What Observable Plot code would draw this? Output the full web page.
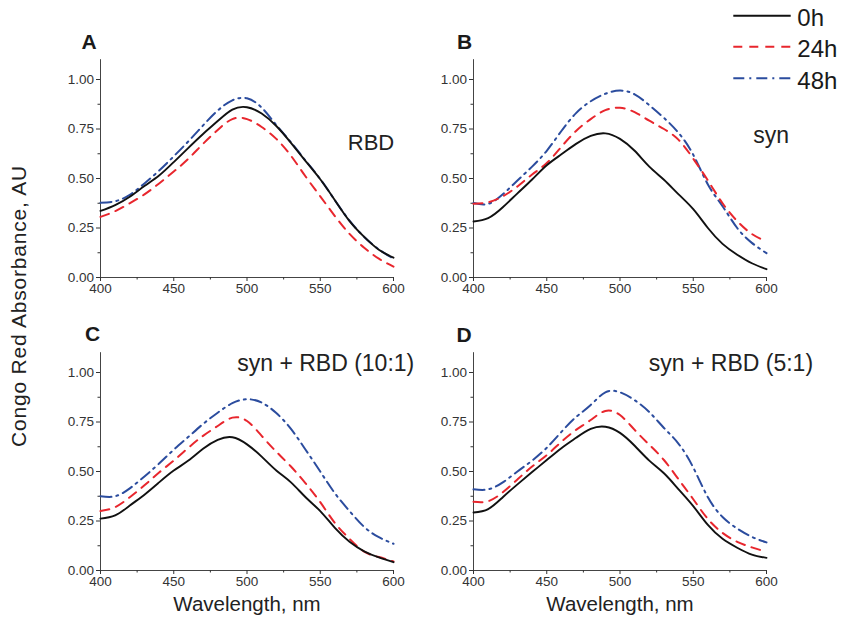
<!DOCTYPE html>
<html><head><meta charset="utf-8">
<script src="https://cdn.jsdelivr.net/npm/d3@7"></script>
<script src="https://cdn.jsdelivr.net/npm/@observablehq/plot@0.6"></script>
<style>
html,body{margin:0;padding:0;background:#fff;}
#chart{position:relative;width:844px;height:622px;font-family:"Liberation Sans",Arial,sans-serif;overflow:hidden;background:#fff;}
#chart > *{position:absolute;}
</style></head><body><div id="chart"></div>
<script>
// ---- data ----
const wavelength = [400,410,420,430,440,450,460,470,480,490,500,510,520,530,540,550,560,570,580,590,600];
const seriesNames = ["0h","24h","48h"];
const seriesColors = ["#111111","#e8262d","#2b4c9e"];
const seriesDash = [null,"9,7","11,5,2,5"];
const panelLetters = ["A","B","C","D"];
const panelTitles = ["RBD","syn","syn + RBD (10:1)","syn + RBD (5:1)"];
const yTicks = [0,0.25,0.5,0.75,1];
const yMinorTicks = [0.125,0.375,0.625,0.875];
const xTicks = [400,450,500,550,600];
const xMinorTicks = [425,475,525,575];

const A_0h  = [0.336,0.366,0.408,0.462,0.515,0.583,0.655,0.725,0.790,0.848,0.860,0.828,0.765,0.680,0.588,0.496,0.390,0.285,0.205,0.140,0.100];
const A_24h = [0.306,0.335,0.375,0.420,0.475,0.535,0.600,0.675,0.745,0.800,0.800,0.760,0.700,0.615,0.510,0.410,0.310,0.220,0.150,0.095,0.055];
const A_48h = [0.378,0.385,0.418,0.475,0.540,0.612,0.688,0.768,0.843,0.895,0.905,0.858,0.770,0.683,0.590,0.497,0.390,0.287,0.205,0.142,0.095];

const B_0h  = [0.283,0.300,0.355,0.425,0.495,0.567,0.622,0.675,0.715,0.728,0.700,0.640,0.560,0.494,0.420,0.345,0.250,0.170,0.115,0.072,0.042];
const B_24h = [0.372,0.380,0.410,0.460,0.520,0.578,0.660,0.740,0.800,0.845,0.857,0.835,0.792,0.750,0.695,0.600,0.490,0.375,0.285,0.220,0.182];
const B_48h = [0.376,0.372,0.420,0.490,0.560,0.640,0.740,0.830,0.890,0.928,0.944,0.925,0.870,0.806,0.730,0.620,0.470,0.360,0.250,0.175,0.123];

const C_0h  = [0.262,0.278,0.328,0.383,0.445,0.505,0.555,0.615,0.660,0.673,0.637,0.575,0.505,0.445,0.370,0.300,0.215,0.145,0.097,0.066,0.042];
const C_24h = [0.300,0.320,0.370,0.430,0.495,0.555,0.620,0.680,0.730,0.772,0.755,0.680,0.600,0.525,0.440,0.345,0.240,0.160,0.095,0.068,0.046];
const C_48h = [0.375,0.375,0.415,0.475,0.540,0.610,0.675,0.740,0.797,0.845,0.865,0.848,0.795,0.715,0.610,0.500,0.390,0.300,0.220,0.168,0.135];

const D_0h  = [0.293,0.310,0.370,0.435,0.497,0.558,0.618,0.670,0.715,0.726,0.695,0.630,0.555,0.491,0.410,0.325,0.230,0.160,0.115,0.080,0.064];
const D_24h = [0.347,0.350,0.395,0.460,0.525,0.583,0.650,0.710,0.760,0.806,0.785,0.710,0.635,0.558,0.460,0.360,0.260,0.190,0.145,0.117,0.094];
const D_48h = [0.410,0.410,0.445,0.500,0.555,0.620,0.700,0.775,0.836,0.900,0.900,0.860,0.800,0.720,0.640,0.520,0.370,0.270,0.212,0.170,0.142];

const panelSeries = [[A_0h,A_24h,A_48h],[B_0h,B_24h,B_48h],[C_0h,C_24h,C_48h],[D_0h,D_24h,D_48h]];

// ---- layout ----
const FONT = '"Liberation Sans", Arial, sans-serif';
const W = 380, H = 310, ML = 60, MR = 27, MT = 42.2, MB = 50;
const panelPos = [ {left:40, top:16.5}, {left:413, top:16.5}, {left:40, top:310}, {left:413, top:310} ];
const letterOffset = [ {dx:-19, dy:-10.7}, {dx:-16.5, dy:-10.4}, {dx:-15.5, dy:-11.5}, {dx:-17, dy:-11.2} ];
const titleOffset = [ {dx:247.3, dy:90.6, size:22}, {dx:279.7, dy:83, size:23}, {dx:136.7, dy:18.5, size:23}, {dx:175.3, dy:18.5, size:23} ];

const chart = document.getElementById("chart");

panelSeries.forEach((series, p) => {
  const rows = [];
  series.forEach((vals, s) => vals.forEach((v, i) => rows.push({w: wavelength[i], v, s})));
  const axisColor = "#333";
  const marks = [
    Plot.ruleX([400], {y1: 0, y2: 1.1, stroke: "#444", strokeWidth: 1}),
    Plot.ruleY([0], {stroke: "#444", strokeWidth: 1}),
    Plot.axisY({ticks: yTicks, tickFormat: d3.format(".2f"), tickSize: 4, tickPadding: 2.5, fontSize: 13.5, color: axisColor, label: null}),
    Plot.axisY({ticks: yMinorTicks, tickFormat: () => "", tickSize: 2.5, color: axisColor, label: null}),
    Plot.axisX({ticks: xTicks, tickFormat: d3.format("d"), tickSize: 4, tickPadding: 2, fontSize: 13.5, color: axisColor, label: null}),
    Plot.axisX({ticks: xMinorTicks, tickFormat: () => "", tickSize: 2.5, color: axisColor, label: null})
  ];
  [2, 1, 0].forEach(s => {
    marks.push(Plot.line(rows.filter(d => d.s === s), {
      x: "w", y: "v", stroke: seriesColors[s], strokeWidth: s === 0 ? 1.9 : 2,
      strokeDasharray: seriesDash[s], curve: "natural"
    }));
  });
  marks.push(Plot.text([panelLetters[p]], {text: d => d, frameAnchor: "top-left", textAnchor: "start", lineAnchor: "bottom",
    dx: letterOffset[p].dx, dy: letterOffset[p].dy, fontSize: 21, fontWeight: "bold", fill: "#1a1a1a"}));
  marks.push(Plot.text([panelTitles[p]], {text: d => d, frameAnchor: "top-left", textAnchor: "start", lineAnchor: "bottom",
    dx: titleOffset[p].dx, dy: titleOffset[p].dy, fontSize: titleOffset[p].size, fill: "#222"}));
  if (p >= 2) {
    marks.push(Plot.text(["Wavelength, nm"], {text: d => d, frameAnchor: "bottom", lineAnchor: "bottom",
      dy: 40, fontSize: 20.5, fill: "#222"}));
  }
  const svg = Plot.plot({
    width: W, height: H, marginLeft: ML, marginRight: MR, marginTop: MT, marginBottom: MB,
    style: {background: "transparent", fontFamily: FONT, overflow: "visible"},
    x: {domain: [400, 600]},
    y: {domain: [0, 1.1]},
    marks
  });
  svg.style.left = panelPos[p].left + "px";
  svg.style.top = panelPos[p].top + "px";
  chart.appendChild(svg);
});

// ---- overlay: legend and shared y title ----
const overlay = d3.create("svg").attr("width", 844).attr("height", 622)
  .style("left", "0px").style("top", "0px").style("pointer-events", "none")
  .style("font-family", FONT);
const legendY = [15.7, 46.7, 78.3];
seriesNames.forEach((name, i) => {
  overlay.append("line").attr("x1", 733.3).attr("x2", 790.7).attr("y1", legendY[i]).attr("y2", legendY[i])
    .attr("stroke", seriesColors[i]).attr("stroke-width", 2).attr("stroke-dasharray", seriesDash[i]);
  overlay.append("text").attr("x", 797.3).attr("y", legendY[i] + 10.4).attr("font-size", 24).attr("fill", "#1a1a1a").text(name);
});
overlay.append("text").attr("transform", "translate(26,306) rotate(-90)").attr("text-anchor", "middle")
  .attr("font-size", 21).attr("letter-spacing", 0.8).attr("fill", "#222").text("Congo Red Absorbance, AU");
chart.appendChild(overlay.node());
</script>
</body></html>
